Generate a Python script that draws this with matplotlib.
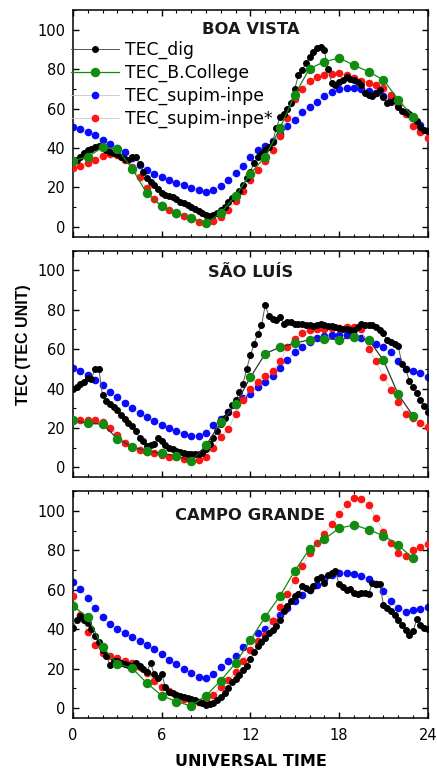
#!/usr/bin/env python3
"""TEC comparison at three Brazilian stations (digisonde, Boston College, SUPIM-INPE)."""

import matplotlib
matplotlib.use("Agg")

import matplotlib.pyplot as plt  # noqa: E402
import numpy as np  # noqa: E402
from matplotlib.ticker import MultipleLocator  # noqa: E402

# time grids (UT hours)
t_quarter = np.arange(0, 24.01, 0.25)
t_half = np.arange(0, 24.01, 0.5)
t_hour = np.arange(0, 24)

stations = ["BOA VISTA", "SÃO LUÍS", "CAMPO GRANDE"]
title_y = [100, 99, 97.5]

# TEC_dig, every 15 min
dig_bv = [33, 34, 35.3, 37.5, 38.8, 39.5, 40.3, 41,
          40.5, 38.7, 38, 37.5, 37, 35.5, 34.5, 34,
          35.3, 35.3, 32, 28, 24.5, 22.5, 21, 19.3,
          17, 16.3, 15.5, 15, 14, 12.8, 12.2, 11,
          10, 9.2, 8.2, 7, 6.2, 5.7, 6, 7,
          8.5, 10, 12.5, 14.5, 16, 18, 21, 24.5,
          28, 32.5, 35.3, 37, 38.7, 40.5, 43, 50,
          55.5, 57, 60, 63, 70, 77, 79.5, 83,
          86, 88.7, 90.8, 91, 89.5, 80, 73, 72,
          73.5, 74.5, 76, 75, 74.5, 73.7, 72, 68,
          67, 66.2, 68, 69.5, 66, 63, 63.5, 64.5,
          61, 58.7, 58, 57, 55, 53.5, 50.5, 49,
          48.5]
dig_sl = [39.8, 41, 42.5, 43.5, 45.5, 45, 50, 50,
          36.5, 33.5, 32, 30.5, 29, 26.5, 24.5, 22.5,
          21, 18.5, 15, 13.5, 11, 11.5, 11.7, 15,
          13.4, 11.5, 10, 9.2, 8.5, 8, 7.5, 6.7,
          7, 6.8, 6.6, 7.5, 9.5, 12, 15, 18.5,
          22, 25, 28, 31.5, 34, 38, 42.5, 50,
          57, 62.5, 67.9, 72, 82.3, 77, 75.5, 74.7,
          76.4, 73, 74, 73.8, 72.6, 73, 73, 72.3,
          72, 71.6, 72, 73, 72, 71.6, 71.5, 71.3,
          70.8, 70.4, 70, 69.8, 69.6, 71, 73, 72.1,
          72.1, 72, 71, 69.6, 68, 64.5, 63.5, 62.5,
          61.4, 52.6, 50, 44, 40.6, 37.5, 34, 31,
          28]
dig_cg = [40.6, 44.5, 46.6, 44.5, 43.2, 40, 36.5, 33.5,
          29.5, 26.5, 22, 23.6, 24, 22.8, 22.4, 21.9,
          21.3, 23, 21.1, 19.6, 18.5, 22.8, 17, 15.1,
          17.3, 10.5, 8.2, 7.5, 6.6, 6, 5.5, 4.9,
          4.4, 3.8, 3, 2.5, 1.5, 2, 2.4, 4,
          5.5, 7.5, 10, 13, 14.5, 16.5, 19.4, 21.5,
          25, 28.5, 31.5, 33.3, 35.5, 37.8, 39.8, 41.5,
          44.5, 49, 52, 54.5, 56.8, 57.7, 61.9, 61,
          59.8, 62, 65.3, 66.7, 63.6, 67.3, 68.5, 69.6,
          62.8, 61.5, 59.8, 60.2, 58.5, 57.7, 58.5, 58.2,
          58, 63.6, 63, 62.8, 52.5, 50.5, 49.1, 47,
          44.5, 42, 39.5, 37.2, 39, 44.9, 42.3, 40.5,
          40]

# TEC_B.College, hourly
bc_bv = [33.5, 35.5, 40.3, 39.5, 29.5, 17, 10.3, 7, 4.5, 1.7, 7, 15.7,
         27, 35.5, 50, 67, 80.3, 83.7, 85.7, 82, 78.7, 74.5, 64.5, 55.7]
bc_sl = [24, 22.3, 22, 14.6, 10.4, 8.3, 7.1, 5.8, 3.2, 11.2, 22.8, 32,
         45.7, 57.7, 61, 63, 64.8, 65.3, 64.8, 66.2, 64.8, 54.3, 37, 26.2]
bc_cg = [51.7, 46.1, 31, 22.4, 20.2, 12.6, 6.3, 3.2, 1, 6.3, 13.9, 22.8,
         34.4, 46.3, 56.8, 69.6, 80.6, 85.7, 91.2, 92.9, 90.5, 87.4, 82.7, 75.9]

# TEC_supim-inpe, every 30 min
supim_bv = [50.5, 49.5, 48, 46.5, 44, 42, 40, 38, 35, 31.5,
            29, 27, 25, 23.5, 22.3, 21, 19.8, 18.5, 17.5, 18.5,
            20.8, 23.8, 27.5, 31, 35.5, 38.7, 40.8, 43.5, 47, 51,
            54, 58, 61, 63.5, 66.5, 68.5, 70, 70.5, 70.3, 69.8,
            69, 68, 66.5, 65, 62, 58, 55, 51.5, 48.5]
supim_sl = [50.5, 49, 47, 44.5, 41.8, 38, 35.5, 32.5, 30, 27.5,
            25.3, 23.3, 21.5, 20, 18.5, 17, 16, 16, 17.5, 21.5,
            24.5, 28, 31.5, 35, 37.3, 40.6, 43.2, 46.5, 50.5, 54.5,
            58.5, 61.2, 63.8, 65.5, 66.8, 67.3, 67.3, 67, 66.6, 65.8,
            64.3, 62.8, 61, 58.5, 54, 50, 49, 48, 46]
supim_cg = [63.8, 60.5, 56, 50.5, 46, 42.5, 40, 38, 36.2, 34.2,
            32.1, 30, 27.3, 24.5, 22.3, 19.8, 17.7, 15.8, 15, 17,
            20.8, 23.6, 26.5, 31, 34.4, 37.8, 40.2, 44, 47, 50.7,
            54.3, 57.4, 60, 62.5, 65.5, 67.3, 68.5, 68.5, 68, 67,
            65.6, 63, 59.5, 54.5, 50.5, 48.7, 49.7, 50.3, 51]

# TEC_supim-inpe*, every 30 min
supim2_bv = [30, 31, 32.5, 34, 35.8, 37, 36.5, 34, 30.5, 25,
             19.5, 14, 11, 8.5, 6.5, 5.2, 3.8, 2.5, 1.8, 2.8,
             5, 8.5, 13, 18, 23.5, 28.7, 33.5, 39, 46, 55,
             65, 70, 74, 76, 77, 77.5, 77.8, 77, 75.5, 74,
             73, 72, 70.3, 67, 62.5, 57, 51, 48, 45]
supim2_sl = [24, 24, 24, 23.8, 23, 20, 16.5, 12.6, 10.4, 9,
             8, 7.3, 6.5, 5.5, 5, 4.3, 3.2, 3.7, 5.5, 10,
             15.5, 19.5, 27, 34, 40, 43.5, 46.5, 49, 54, 61,
             65, 68, 69.5, 70.2, 70, 70.5, 70.8, 71, 71, 70,
             60, 54, 46, 39.5, 33, 27, 25, 22.5, 20.5]
supim2_cg = [57, 47, 38.5, 32, 28, 26.3, 25.3, 23.6, 22.7, 20.8,
             17.8, 13.5, 10.5, 8.5, 6.5, 4.5, 3.7, 3.2, 4, 6.5,
             10.5, 14.3, 18, 24, 29.3, 33.8, 37, 44, 51, 58,
             65, 72, 78.5, 83.5, 88.3, 93.5, 98.5, 103.5, 106.5, 106,
             103, 96.5, 89.5, 83.5, 78.5, 77, 80, 81.8, 83.2]

dig = [dig_bv, dig_sl, dig_cg]
bc = [bc_bv, bc_sl, bc_cg]
supim = [supim_bv, supim_sl, supim_cg]
supim2 = [supim2_bv, supim2_sl, supim2_cg]

GREEN = "#118c11"
BLUE = "#0a0aff"
RED = "#ff1414"
bc_line = [GREEN, "#333333", GREEN]

plt.rcParams.update({
    "font.family": "DejaVu Sans",
    "font.size": 10.5,
    "axes.linewidth": 1.1,
})

fig, axes = plt.subplots(3, 1, figsize=(4.37, 7.71), dpi=100, sharex=True)
fig.subplots_adjust(left=0.167, right=0.979, top=0.987, bottom=0.069, hspace=0.062)

for i, ax in enumerate(axes):
    ax.plot(t_half, supim[i], "o-", color="#c8c8c8", lw=0.6, mfc=BLUE, mec=BLUE,
            ms=4.5, label="TEC_supim-inpe", zorder=2)
    ax.plot(t_half, supim2[i], "o-", color="#c8c8c8", lw=0.6, mfc=RED, mec=RED,
            ms=4.5, label="TEC_supim-inpe*", zorder=3)
    ax.plot(t_quarter, dig[i], "o-", color="#555555", lw=0.7, mfc="black", mec="black",
            ms=4.0, label="TEC_dig", zorder=4)
    ax.plot(t_hour, bc[i], "o-", color=bc_line[i], lw=0.9, mfc=GREEN, mec=GREEN,
            ms=5.8, label="TEC_B.College", zorder=5)

    ax.text(12, title_y[i], stations[i], ha="center", va="center",
            fontsize=11.8, fontweight="bold", color="#1a1a1a")

    ax.set_xlim(0, 24)
    ax.set_ylim(-5, 110)
    ax.xaxis.set_major_locator(MultipleLocator(6))
    ax.xaxis.set_minor_locator(MultipleLocator(1))
    ax.yaxis.set_major_locator(MultipleLocator(20))
    ax.yaxis.set_minor_locator(MultipleLocator(10))
    ax.tick_params(which="both", direction="in", top=True, right=True)
    ax.tick_params(which="major", length=4, width=1, pad=5.5)
    ax.tick_params(which="minor", length=2.5, width=0.8)
    ax.tick_params(axis="x", which="major", pad=7)

# legend in the top panel, in the original order
handles, labels = axes[0].get_legend_handles_labels()
order = ["TEC_dig", "TEC_B.College", "TEC_supim-inpe", "TEC_supim-inpe*"]
hmap = dict(zip(labels, handles))
axes[0].legend([hmap[k] for k in order], order, loc="upper left",
               bbox_to_anchor=(-0.005, 0.865), frameon=False, fontsize=12.4,
               handlelength=2.8, handletextpad=0.35, labelspacing=0.28,
               borderpad=0, borderaxespad=0)

fig.text(0.574, 0.0125, "UNIVERSAL TIME", ha="center", va="center",
         fontsize=11.5, fontweight="bold")
fig.text(0.053, 0.553, "TEC (TEC UNIT)", ha="center", va="center", rotation=90,
         fontsize=11.5, fontweight="bold", family="Liberation Sans")

fig.savefig("out.png", dpi=100)
